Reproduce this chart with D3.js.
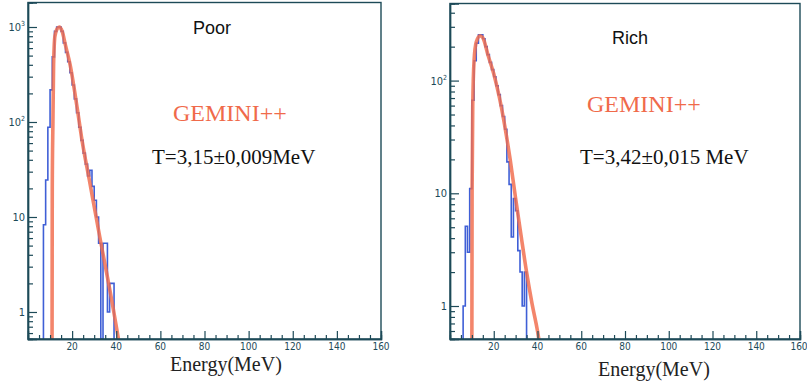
<!DOCTYPE html>
<html>
<head>
<meta charset="utf-8">
<script src="https://cdn.jsdelivr.net/npm/d3@7/dist/d3.min.js"></script>
<style>
  html, body { margin: 0; padding: 0; background: #fff; }
  svg { display: block; }
</style>
</head>
<body>
<svg id="chart" width="807" height="381"></svg>
<script>
// ---------- data ----------
const panelTitles = ["Poor", "Rich"];
const modelLabel = "GEMINI++";
const temperatureLabels = ["T=3,15\u00b10,009MeV", "T=3,42\u00b10,015 MeV"];
const xAxisTitle = "Energy(MeV)";
const energyMajorTicks = [20, 40, 60, 80, 100, 120, 140, 160];
const energyMinorTicks = [5,10,15,25,30,35,45,50,55,65,70,75,85,90,95,105,110,115,125,130,135,145,150,155];

// measured histograms (1 MeV bins)
const poorBinStart = 7;
const poorCounts = [8.3, 24.5, 88, 218, 485, 900, 1000, 1000, 900, 680, 540, 430, 330, 245, 175, 125,
                    88, 64, 47, 36, 27, 31, 21, 15, 10, 5.3, 0, 5.3, 5.3, 1, 2, 2];
const richBinStart = 6;
const richCounts = [1, 5.1, 3, 11, 67, 150, 215, 255, 255, 235, 200, 170, 145, 125, 108, 90,
                    75, 60, 48, 37, 19, 12, 4.1, 9, 7, 3.1, 2, 1, 2];

// GEMINI++ fit curves
const poorFitE = [10.9, 11.0, 11.3, 11.6, 12.2, 13.2, 14.2, 15.5, 17.0, 19.1, 22.3, 24.4, 27.8, 32.1, 38.9, 41.0];
const poorFitN = [0.52, 20, 100, 400, 800, 960, 1000, 900, 640, 400, 140, 66, 24.5, 7, 1, 0.52];
const richFitE = [10.0, 10.1, 10.4, 11.0, 12.0, 13.7, 15.0, 17.5, 20.0, 22.5, 25.0, 27.5, 30.0, 32.5, 35.0, 37.5, 40.0, 40.6];
const richFitN = [0.51, 10, 60, 150, 220, 250, 240, 165, 115, 72, 40, 20, 9, 4.2, 2.0, 1.05, 0.6, 0.51];

// y tick values
const poorYMajor = [1, 10, 100, 1000];
const richYMajor = [1, 10, 100];

// ---------- layout ----------
const svg = d3.select("#chart");
const axisColor = "#1d4a58";
const blue = "#3f5fd6";
const red = "#f06a4a";

const panels = [
  { title: panelTitles[0], counts: poorCounts, start: poorBinStart, fitE: poorFitE, fitN: poorFitN,
    yMajor: poorYMajor, x0: 28, x1: 381, yTop: 2.5, yBot: 339, yDom: [0.5196, 1811],
    titlePos: [193, 34], gemPos: [173, 121], tPos: [152, 164], exPos: [170, 371] },
  { title: panelTitles[1], counts: richCounts, start: richBinStart, fitE: richFitE, fitN: richFitN,
    yMajor: richYMajor, x0: 450, x1: 800, yTop: 3.5, yBot: 339, yDom: [0.5096, 483],
    titlePos: [612, 44], gemPos: [587, 112], tPos: [580, 164], exPos: [598, 376] }
];

panels.forEach((p, pi) => {
  const g = svg.append("g");
  const x = d3.scaleLinear().domain([0, 160]).range([p.x0, p.x1]);
  const y = d3.scaleLog().domain(p.yDom).range([p.yBot, p.yTop]).clamp(true);
  const yv = v => y(Math.max(v, p.yDom[0]));

  const clipId = "clip" + pi;
  g.append("clipPath").attr("id", clipId).append("rect")
    .attr("x", p.x0).attr("y", p.yTop).attr("width", p.x1 - p.x0).attr("height", p.yBot - p.yTop);

  // histogram
  const pts = [[p.start, 0]];
  p.counts.forEach((c, i) => pts.push([p.start + i, c]));
  pts.push([p.start + p.counts.length, 0]);
  const histLine = d3.line().x(d => x(d[0])).y(d => yv(d[1])).curve(d3.curveStepAfter);
  g.append("path").attr("d", histLine(pts)).attr("fill", "none")
    .attr("stroke", blue).attr("stroke-width", 1.6).attr("clip-path", `url(#${clipId})`);

  // fit
  const fitPts = p.fitE.map((e, i) => [e, p.fitN[i]]);
  const fitLine = d3.line().x(d => x(d[0])).y(d => yv(d[1])).curve(d3.curveMonotoneX);
  g.append("path").attr("d", fitLine(fitPts)).attr("fill", "none")
    .attr("stroke", red).attr("stroke-width", 3.6).attr("stroke-opacity", 0.82)
    .attr("stroke-linejoin", "round").attr("clip-path", `url(#${clipId})`);

  // frame
  g.append("rect").attr("x", p.x0).attr("y", p.yTop).attr("width", p.x1 - p.x0).attr("height", p.yBot - p.yTop)
    .attr("fill", "none").attr("stroke", axisColor).attr("stroke-width", 1.4);

  // x axis ticks (inside)
  const xMaj = d3.axisBottom(x).tickValues(energyMajorTicks).tickSize(-8).tickFormat("");
  const xMin = d3.axisBottom(x).tickValues(energyMinorTicks).tickSize(-4).tickFormat("");
  [xMaj, xMin].forEach(ax => {
    const a = g.append("g").attr("transform", `translate(0,${p.yBot})`).call(ax);
    a.select(".domain").attr("stroke", axisColor).attr("stroke-width", 1.4);
    a.selectAll(".tick line").attr("stroke", axisColor).attr("stroke-width", 1.2);
  });
  g.selectAll(null).data(energyMajorTicks).enter().append("text")
    .attr("x", d => Math.min(x(d), 799)).attr("y", p.yBot + 11)
    .attr("text-anchor", "middle")
    .attr("font-family", "'Liberation Sans Narrow', 'DejaVu Sans Condensed', sans-serif")
    .attr("font-size", 10).attr("fill", axisColor)
    .text(d => d);

  // y axis ticks (inside)
  const yMinorVals = [];
  const lo = Math.floor(Math.log10(p.yDom[0])), hi = Math.ceil(Math.log10(p.yDom[1]));
  for (let k = lo; k <= hi; k++) for (let m = 2; m <= 9; m++) {
    const v = m * Math.pow(10, k);
    if (v > p.yDom[0] && v < p.yDom[1]) yMinorVals.push(v);
  }
  const yMaj = d3.axisLeft(y).tickValues(p.yMajor).tickSize(-9).tickFormat("");
  const yMin = d3.axisLeft(y).tickValues(yMinorVals).tickSize(-5).tickFormat("");
  [yMaj, yMin].forEach(ax => {
    const a = g.append("g").attr("transform", `translate(${p.x0},0)`).call(ax);
    a.select(".domain").attr("stroke", axisColor).attr("stroke-width", 1.4);
    a.selectAll(".tick line").attr("stroke", axisColor).attr("stroke-width", 1.2);
  });
  p.yMajor.forEach(v => {
    const exp = Math.round(Math.log10(v));
    const t = g.append("text").attr("x", p.x0 - 3).attr("y", y(v) + 4)
      .attr("text-anchor", "end")
      .attr("font-family", "'Liberation Sans Narrow', 'DejaVu Sans Condensed', sans-serif")
      .attr("font-size", 11).attr("fill", axisColor);
    if (exp <= 1) {
      t.text(String(v));
    } else {
      t.append("tspan").text("10");
      t.append("tspan").attr("font-size", 7).attr("dy", -5).text(String(exp));
    }
  });

  // texts
  g.append("text").attr("x", p.titlePos[0]).attr("y", p.titlePos[1])
    .attr("font-family", "'Liberation Sans', Arial, sans-serif").attr("font-size", 18)
    .attr("fill", "#111").text(p.title);
  g.append("text").attr("x", p.gemPos[0]).attr("y", p.gemPos[1])
    .attr("font-family", "'Liberation Serif', 'Times New Roman', serif").attr("font-size", 24)
    .attr("fill", red).text(modelLabel);
  g.append("text").attr("x", p.tPos[0]).attr("y", p.tPos[1])
    .attr("font-family", "'Liberation Serif', 'Times New Roman', serif").attr("font-size", 21)
    .attr("fill", "#111").text(temperatureLabels[pi]);
  g.append("text").attr("x", p.exPos[0]).attr("y", p.exPos[1])
    .attr("font-family", "'Liberation Serif', 'Times New Roman', serif").attr("font-size", 20)
    .attr("fill", "#222").text(xAxisTitle);
});
</script>
</body>
</html>
